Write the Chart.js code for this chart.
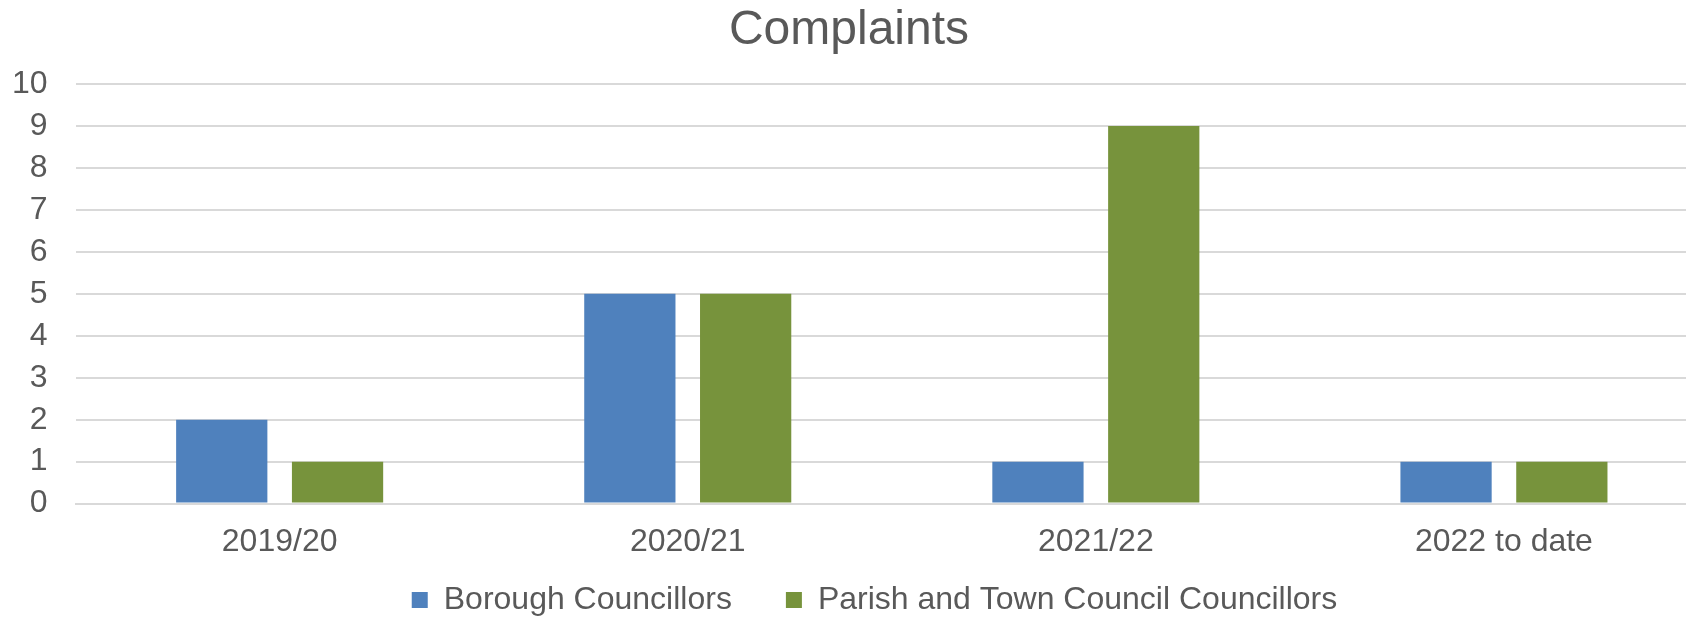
<!DOCTYPE html>
<html>
<head>
<meta charset="utf-8">
<script src="https://cdn.jsdelivr.net/npm/chart.js@4"></script>
<style>
  html, body { margin: 0; padding: 0; background: #fff; overflow: hidden; }
</style>
</head>
<body>
<canvas id="chart" width="1712" height="618"></canvas>
<script>
const categories = ['2019/20', '2020/21', '2021/22', '2022 to date'];
const boroughCouncillors = [2, 5, 1, 1];
const parishTownCouncillors = [1, 5, 9, 1];
const yTicks = [0, 1, 2, 3, 4, 5, 6, 7, 8, 9, 10];

const textColor = '#595959';
const gridColor = '#d9d9d9';
const font = 'Liberation Sans, Arial, sans-serif';

// move title and legend a little, the plot runs past the right edge in the original
const nudge = {
  id: 'nudge',
  afterLayout(chart) {
    const t = chart.titleBlock;
    t.left -= 11;
    t.right -= 11;
    const l = chart.legend;
    l.left += 14.5;
    l.right += 14.5;
    l.top = 530;
  }
};

const ctx = document.getElementById('chart').getContext('2d');
new Chart(ctx, {
  type: 'bar',
  data: {
    labels: categories,
    datasets: [{
      label: 'Borough Councillors',
      data: boroughCouncillors,
      backgroundColor: '#4f81bd',
      categoryPercentage: 0.5675,
      barPercentage: 0.788
    }, {
      label: 'Parish and Town Council Councillors',
      data: parishTownCouncillors,
      backgroundColor: '#77933c',
      categoryPercentage: 0.5675,
      barPercentage: 0.788
    }]
  },
  options: {
    responsive: false,
    animation: false,
    layout: { padding: { left: 12, right: 4, top: 0, bottom: 0 } },
    plugins: {
      title: {
        display: true,
        text: 'Complaints',
        color: textColor,
        font: { family: font, size: 48, weight: 'normal', lineHeight: 1.1 },
        padding: { top: 4, bottom: 27.2 }
      },
      legend: {
        position: 'bottom',
        maxHeight: 57,
        labels: {
          color: textColor,
          font: { family: font, size: 32 },
          boxWidth: 16,
          boxHeight: 16,
          padding: 54
        }
      },
      tooltip: { enabled: false }
    },
    scales: {
      x: {
        grid: { display: false, drawTicks: false },
        border: { display: true, color: gridColor, width: 2 },
        ticks: {
          color: textColor,
          font: { family: font, size: 32 },
          padding: 19,
          maxRotation: 0
        },
        afterFit(axis) {
          axis.height = 57.4;
        }
      },
      y: {
        min: 0,
        max: 10,
        afterBuildTicks(axis) {
          axis.ticks = yTicks.map(v => ({ value: v }));
        },
        grid: { color: gridColor, lineWidth: 2, drawTicks: false },
        border: { display: false },
        ticks: {
          color: textColor,
          font: { family: font, size: 32 },
          padding: 28,
          autoSkip: false
        },
        afterFit(axis) {
          axis.width = 63.6;
        }
      }
    }
  },
  plugins: [nudge]
});
</script>
</body>
</html>
